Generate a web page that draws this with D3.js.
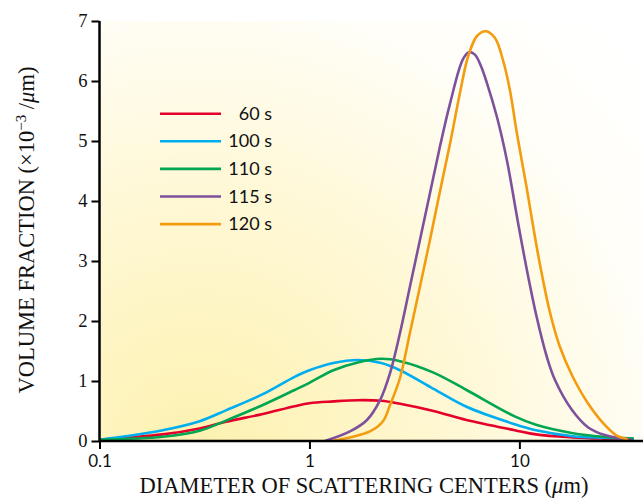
<!DOCTYPE html>
<html>
<head>
<meta charset="utf-8">
<script src="https://cdn.jsdelivr.net/npm/d3@7"></script>
<style>
  body { margin: 0; background: #fff; }
  .tick text { font-family: 'Liberation Serif', serif; }
</style>
</head>
<body>
<div id="chart"></div>
<script>
// broad distributions share one diameter grid (um)
const diameters = [0.1, 0.2, 0.3, 0.4, 0.6, 0.85, 1, 1.3, 1.7, 2.2, 2.7, 3.9, 5.6, 9.5, 12, 18, 25, 35]
const v60 = [0.02, 0.11, 0.21, 0.32, 0.45, 0.58, 0.63, 0.66, 0.68, 0.67, 0.62, 0.5, 0.35, 0.18, 0.11, 0.06, 0.04, 0.03]
const v100 = [0.02, 0.18, 0.33, 0.51, 0.78, 1.07, 1.18, 1.3, 1.35, 1.3, 1.18, 0.87, 0.57, 0.28, 0.18, 0.08, 0.055, 0.04]
const v110 = [0.02, 0.07, 0.17, 0.34, 0.6, 0.85, 0.97, 1.18, 1.31, 1.37, 1.33, 1.14, 0.85, 0.41, 0.27, 0.13, 0.07, 0.04]

// narrow distributions
const d115 = [1.185, 1.56, 1.88, 2.17, 2.42, 2.7, 3.01, 3.36, 3.75, 4.18, 4.67, 5.38, 5.75, 6.14, 6.56, 7.0, 7.82, 8.72, 9.84, 10.86, 12.12, 13.52, 14.76, 17.78, 21.2, 25.5, 34.3]
const v115 = [0, 0.16, 0.35, 0.68, 1.13, 1.8, 2.57, 3.35, 4.13, 4.9, 5.62, 6.36, 6.48, 6.44, 6.25, 5.97, 5.4, 4.68, 3.65, 2.85, 2.05, 1.4, 1.02, 0.52, 0.23, 0.1, 0.02]
const d120 = [1.28, 1.94, 2.24, 2.42, 2.7, 3.01, 3.36, 3.75, 4.18, 4.67, 5.21, 5.69, 6.28, 6.93, 7.64, 8.35, 9.01, 9.73, 10.86, 11.6, 12.52, 13.97, 15.59, 17.78, 21.2, 25.5, 29.4, 32.9]
const v120 = [0, 0.16, 0.33, 0.6, 1.05, 1.8, 2.57, 3.35, 4.15, 4.95, 5.8, 6.4, 6.75, 6.83, 6.72, 6.35, 5.85, 5.13, 4.2, 3.6, 2.95, 2.15, 1.57, 1.1, 0.63, 0.27, 0.08, 0.03]

const seriesNames = ['60 s', '100 s', '110 s', '115 s', '120 s']
const seriesColors = ['#e4002b', '#00aeef', '#00a651', '#7e519c', '#f39c0f']
const xTicks = [0.1, 1, 10]
const yTicks = [0, 1, 2, 3, 4, 5, 6, 7]

const series = [
  { name: seriesNames[0], x: diameters, y: v60 },
  { name: seriesNames[1], x: diameters, y: v100 },
  { name: seriesNames[2], x: diameters, y: v110 },
  { name: seriesNames[3], x: d115, y: v115 },
  { name: seriesNames[4], x: d120, y: v120 },
]

const W = 643
const H = 498
const margin = { top: 21, right: 0, bottom: 57, left: 99.5 }
const width = W - margin.left - margin.right
const height = H - margin.top - margin.bottom

const svg = d3
  .select('#chart')
  .append('svg')
  .attr('width', W)
  .attr('height', H)

const defs = svg.append('defs')
const grad = defs
  .append('radialGradient')
  .attr('id', 'bg')
  .attr('gradientUnits', 'userSpaceOnUse')
  .attr('cx', margin.left)
  .attr('cy', margin.top + height)
  .attr('r', 600)
grad.append('stop').attr('offset', '0%').attr('stop-color', '#fdf1ae')
grad.append('stop').attr('offset', '45%').attr('stop-color', '#fff8d6')
grad.append('stop').attr('offset', '78%').attr('stop-color', '#fffef8')
grad.append('stop').attr('offset', '100%').attr('stop-color', '#ffffff')

const g = svg.append('g').attr('transform', `translate(${margin.left}, ${margin.top})`)

g.append('rect').attr('width', width).attr('height', height).attr('fill', 'url(#bg)')

const x = d3.scaleLog().domain([0.1, 38.8]).range([0, width])
const y = d3.scaleLinear().domain([0, 7]).range([height, 0])

// curves
const line = d3
  .line()
  .x((d) => x(d[0]))
  .y((d) => y(d[1]))
  .curve(d3.curveCatmullRom.alpha(0.5))

g.selectAll('.series')
  .data(series)
  .join('path')
  .attr('class', 'series')
  .attr('fill', 'none')
  .attr('stroke', (d, i) => seriesColors[i])
  .attr('stroke-width', 2.6)
  .attr('d', (d) => line(d.x.map((v, i) => [v, d.y[i]])))

// axes
const yAxis = g
  .append('g')
  .call(d3.axisLeft(y).tickValues(yTicks).tickFormat(d3.format('d')).tickSize(8).tickPadding(4))
yAxis.select('.domain').attr('stroke-width', 2.5).attr('d', `M0,${height}V0`)
yAxis.selectAll('.tick line').attr('stroke-width', 2)
yAxis.selectAll('.tick text').attr('font-size', 18.5).attr('fill', '#111')

const xAxis = g
  .append('g')
  .attr('transform', `translate(0, ${height})`)
  .call(d3.axisBottom(x).tickValues(xTicks).tickFormat(d3.format('')).tickSize(8).tickPadding(6))
xAxis.select('.domain').attr('stroke-width', 2.5).attr('d', `M0,0H${width}`)
xAxis.selectAll('.tick line').attr('stroke-width', 2)
xAxis
  .selectAll('.tick text')
  .attr('font-size', 17)
  .attr('fill', '#111')
  .style('font-family', "'Lato', sans-serif")

// axis labels
svg
  .append('text')
  .attr('x', 364)
  .attr('y', 493)
  .attr('text-anchor', 'middle')
  .attr('font-family', "'Liberation Serif', serif")
  .attr('font-size', 22.5)
  .attr('fill', '#111')
  .html('DIAMETER OF SCATTERING CENTERS (<tspan font-style="italic">μ</tspan>m)')

svg
  .append('text')
  .attr('transform', 'translate(34, 230) rotate(-90)')
  .attr('text-anchor', 'middle')
  .attr('font-family', "'Liberation Serif', serif")
  .attr('font-size', 22.5)
  .attr('fill', '#111')
  .html(
    'VOLUME FRACTION (×10<tspan dy="-8" font-size="15">−3</tspan><tspan dy="8"> /</tspan><tspan font-style="italic">μ</tspan>m)'
  )

// legend
const legend = svg
  .append('g')
  .selectAll('g')
  .data(seriesNames)
  .join('g')
  .attr('transform', (d, i) => `translate(160, ${113.7 + i * 27.6})`)

legend
  .append('line')
  .attr('x1', 0)
  .attr('x2', 61)
  .attr('stroke', (d, i) => seriesColors[i])
  .attr('stroke-width', 2.6)

legend
  .append('text')
  .attr('x', 112)
  .attr('y', 6)
  .attr('text-anchor', 'end')
  .attr('font-family', "'Lato', sans-serif")
  .attr('font-size', 18)
  .attr('fill', '#111')
  .text((d) => d)
</script>
</body>
</html>
